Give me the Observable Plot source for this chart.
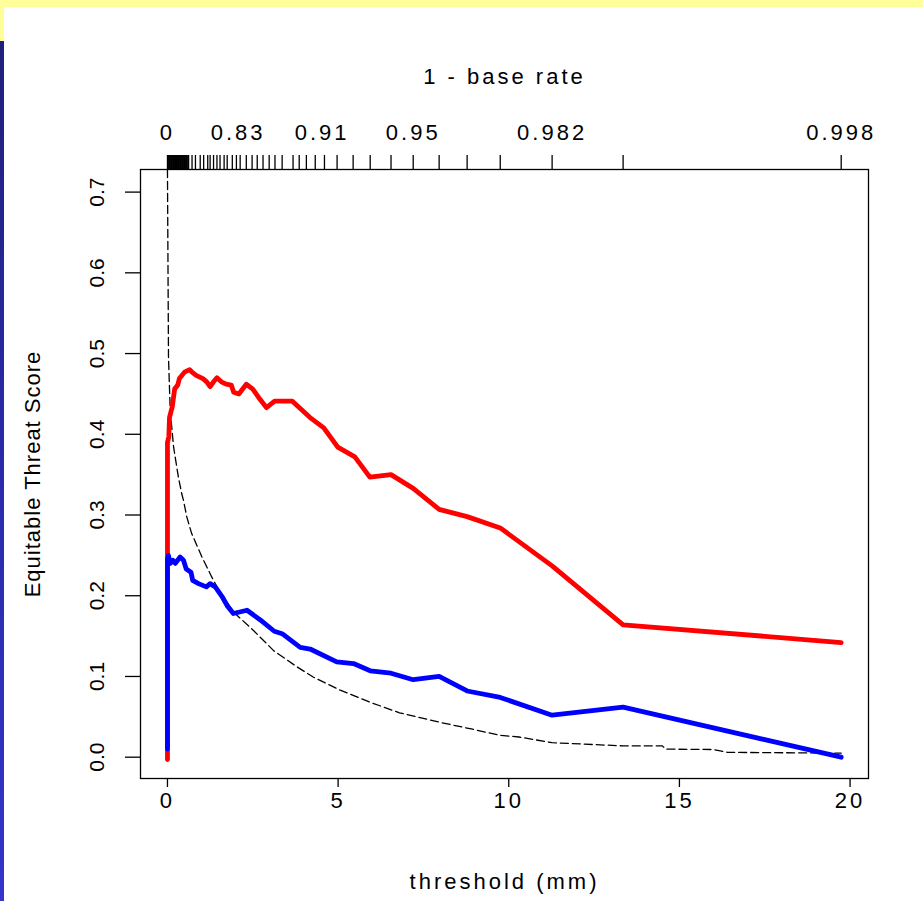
<!DOCTYPE html>
<html><head><meta charset="utf-8">
<script src="https://cdn.jsdelivr.net/npm/d3@7"></script>
<script src="https://cdn.jsdelivr.net/npm/@observablehq/plot@0.6"></script>
<style>
html,body{margin:0;padding:0;background:#fff;}
#wrap{position:relative;width:923px;height:901px;overflow:hidden;background:#fff;}
#band{position:absolute;left:0;top:0;width:923px;height:7px;background:#ffff99;}
#strip{position:absolute;left:0;top:0;width:4px;height:901px;background:linear-gradient(to bottom,#ffff99 0px,#ffff99 41px,#20207c 41px,#2a2aa8 450px,#3434cc 901px);}
</style></head><body><div id="wrap"><div id="chart"></div><div id="band"></div><div id="strip"></div></div>
<script>
// ---- data (threshold in mm, Equitable Threat Score) ----
const redThreshold = [0, 0, 0, 0.04, 0.06, 0.14, 0.21, 0.30, 0.35, 0.50, 0.65, 0.72, 0.84, 1.04, 1.15, 1.25, 1.35, 1.45, 1.58, 1.72, 1.87, 1.94, 2.09, 2.31, 2.50, 2.70, 2.90, 3.14, 3.66, 4.17, 4.58, 4.99, 5.49, 5.93, 6.55, 7.20, 7.96, 8.78, 9.75, 11.27, 13.35, 19.74];
const redETS       = [-0.003, 0.04, 0.39, 0.397, 0.421, 0.434, 0.456, 0.461, 0.469, 0.477, 0.480, 0.477, 0.473, 0.469, 0.465, 0.459, 0.465, 0.470, 0.465, 0.462, 0.461, 0.452, 0.450, 0.462, 0.456, 0.444, 0.433, 0.441, 0.441, 0.421, 0.408, 0.384, 0.372, 0.347, 0.350, 0.333, 0.307, 0.298, 0.284, 0.237, 0.164, 0.142];

const blueThreshold = [0, 0, 0, 0.03, 0.08, 0.16, 0.23, 0.37, 0.47, 0.55, 0.69, 0.74, 0.91, 1.14, 1.25, 1.40, 1.60, 1.76, 1.93, 2.33, 2.72, 3.13, 3.36, 3.89, 4.18, 4.96, 5.45, 5.94, 6.55, 7.20, 7.96, 8.78, 9.75, 11.27, 13.35, 19.74];
const blueETS       = [0.010, 0.024, 0.245, 0.250, 0.240, 0.244, 0.240, 0.248, 0.244, 0.233, 0.229, 0.219, 0.215, 0.211, 0.215, 0.211, 0.199, 0.187, 0.178, 0.182, 0.170, 0.156, 0.153, 0.136, 0.134, 0.118, 0.116, 0.107, 0.104, 0.096, 0.100, 0.082, 0.074, 0.052, 0.062, 0.000];

const refThreshold = [0, 0.03, 0.08, 0.18, 0.32, 0.42, 0.47, 0.57, 0.71, 1.01, 1.30, 1.54, 1.98, 2.52, 3.11, 3.79, 4.28, 5.06, 5.94, 6.80, 8.00, 8.90, 9.75, 10.30, 11.27, 13.35, 14.50, 14.60, 16.00, 16.40, 19.74];
const refETS       = [0.728, 0.496, 0.430, 0.384, 0.347, 0.326, 0.318, 0.297, 0.277, 0.248, 0.223, 0.204, 0.178, 0.157, 0.132, 0.112, 0.099, 0.083, 0.068, 0.055, 0.043, 0.035, 0.027, 0.025, 0.018, 0.014, 0.014, 0.010, 0.0095, 0.006, 0.005];

// top axis: thresholds (rug ticks) and "1 - base rate" labels
const thresholdTicks = [0, 0.02, 0.04, 0.06, 0.08, 0.10, 0.12, 0.14, 0.16, 0.18, 0.20, 0.22, 0.24, 0.26, 0.28, 0.30, 0.32, 0.34, 0.36, 0.38, 0.40, 0.42, 0.44, 0.46, 0.48, 0.50, 0.52, 0.54, 0.56, 0.58, 0.62, 0.72, 0.82, 0.96, 1.06, 1.18, 1.25, 1.35, 1.45, 1.54, 1.66, 1.75, 1.90, 2.02, 2.13, 2.31, 2.48, 2.63, 2.80, 2.98, 3.15, 3.36, 3.68, 3.86, 4.07, 4.33, 4.60, 4.97, 5.44, 5.94, 6.55, 7.20, 7.96, 8.78, 9.75, 11.27, 13.35, 19.74];
const baseRatePos    = [0, 2.07, 4.53, 7.20, 11.27, 19.74];
const baseRateLabels = ["0", "0.83", "0.91", "0.95", "0.982", "0.998"];

const xTicks = [0, 5, 10, 15, 20];
const yTicks = [0, 0.1, 0.2, 0.3, 0.4, 0.5, 0.6, 0.7];

// ---- build ----
const toRows = (xs, ys) => xs.map((x, i) => ({x, y: ys[i]}));
const red = toRows(redThreshold, redETS);
const blue = toRows(blueThreshold, blueETS);
const ref = toRows(refThreshold, refETS);
const labelMap = new Map(baseRatePos.map((p, i) => [p, baseRateLabels[i]]));

const chart = Plot.plot({
  width: 923, height: 901,
  marginLeft: 140, marginRight: 55, marginTop: 169, marginBottom: 123,
  style: {fontFamily: "'Liberation Sans', Arial, sans-serif", fontSize: "22px", background: "white", color: "black", overflow: "visible"},
  x: {domain: [-0.79, 20.54], label: null},
  y: {domain: [-0.0264, 0.728], label: null},
  marks: [
    Plot.line(ref, {x: "x", y: "y", stroke: "black", strokeWidth: 1.3, strokeDasharray: "8,4", clip: true}),
    Plot.line(red, {x: "x", y: "y", stroke: "#ff0000", strokeWidth: 4.8, strokeLinejoin: "round", strokeLinecap: "round"}),
    Plot.line(blue, {x: "x", y: "y", stroke: "#0000ff", strokeWidth: 4.8, strokeLinejoin: "round", strokeLinecap: "round"}),
    Plot.frame({stroke: "black", strokeWidth: 1.3}),
    Plot.axisY({ticks: yTicks, label: null, tickSize: 15, tickRotate: -90, tickPadding: 22, tickFormat: d => d.toFixed(1), fontSize: 21, strokeWidth: 1.3}),
    Plot.axisX({anchor: "bottom", label: null, ticks: xTicks, tickSize: 9, tickPadding: 5, tickFormat: d => String(d), fontSize: 22, strokeWidth: 1.3}),
    Plot.axisX({anchor: "top", label: null, ticks: thresholdTicks, tickSize: 15, tickFormat: () => "", strokeWidth: 1.3}),
    Plot.axisX({anchor: "top", label: null, ticks: baseRatePos, tickSize: 0, tickPadding: 30, tickFormat: d => labelMap.get(d), fontSize: 22}),
    Plot.text(["1 - base rate"], {text: d => d, frameAnchor: "top", textAnchor: "middle", dy: -86, lineAnchor: "bottom", fontSize: 22}),
    Plot.text(["threshold (mm)"], {text: d => d, frameAnchor: "bottom", textAnchor: "middle", dy: 110, lineAnchor: "bottom", fontSize: 22}),
    Plot.text(["Equitable Threat Score"], {text: d => d, frameAnchor: "left", textAnchor: "middle", dx: -101, rotate: -90, lineAnchor: "bottom", fontSize: 22})
  ]
});
document.getElementById("chart").appendChild(chart);
// letter spacing like the original device text
d3.select(chart).selectAll('g[aria-label="x-axis tick label"] text').style("letter-spacing", "3px");
d3.select(chart).selectAll('g[aria-label="text"] text').style("letter-spacing", "3px");
d3.select(chart).selectAll('g[aria-label="text"] text').filter(function(){return this.textContent === "Equitable Threat Score";}).style("letter-spacing", "1px");
</script>
</body></html>
